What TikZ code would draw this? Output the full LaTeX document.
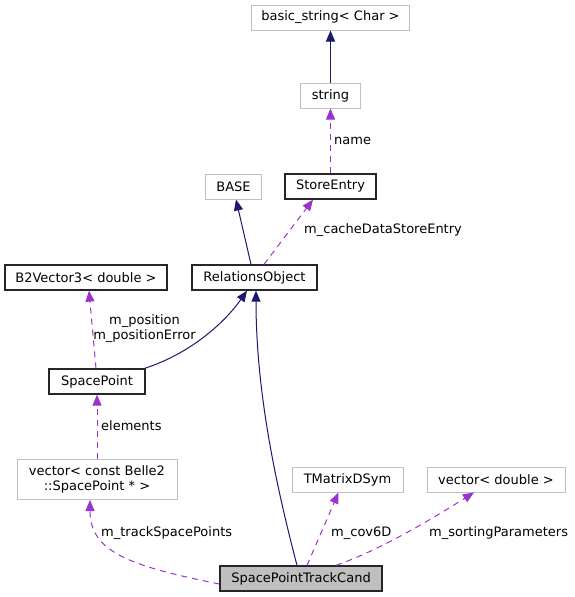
\documentclass[tikz,border=0pt]{standalone}
\usepackage{fontspec}
\setmainfont{DejaVu Sans}
\usetikzlibrary{arrows.meta}
\definecolor{navy}{HTML}{191970}
\definecolor{orchid}{HTML}{9A32CD}
\definecolor{lgray}{HTML}{BFBFBF}
\tikzset{
  lbl/.style={font=\fontsize{13}{15}\selectfont, inner sep=0pt},
  cls/.style={lbl, draw=black!85, line width=1.3pt, rectangle, minimum height=25pt, align=center},
  ext/.style={lbl, draw=lgray, line width=1pt, rectangle, minimum height=25pt, align=center},
  inh/.style={draw=navy, line width=1pt, -{Triangle[length=11pt,width=9pt]}},
  use/.style={draw=orchid, line width=1pt, dash pattern=on 6pt off 5pt, -{Triangle[length=11pt,width=9pt]}}
}
\begin{document}
\begin{tikzpicture}[x=1pt,y=-1pt]
\useasboundingbox[fill=white] (0,0) rectangle (575,597);
% nodes
\node[ext, minimum width=158pt] (bs) at (330.5,17.5) {basic\_string< Char >};
\node[ext, minimum width=60pt] (str) at (330.5,95.5) {string};
\node[ext, minimum width=56pt] (base) at (233.5,186.5) {BASE};
\node[cls, minimum width=91pt] (se) at (330.5,186.5) {StoreEntry};
\node[cls, minimum width=125pt] (ro) at (254.5,277.5) {RelationsObject};
\node[cls, minimum width=162pt] (b2) at (86,277.5) {B2Vector3< double >};
\node[cls, minimum width=96pt] (sp) at (97,381.5) {SpacePoint};
\node[ext, minimum width=160pt, minimum height=40pt] (vsp) at (97,479.5) {vector< const Belle2\\::SpacePoint * >};
\node[ext, minimum width=111pt] (tm) at (347.5,479.5) {TMatrixDSym};
\node[ext, minimum width=138pt] (vd) at (496,479.5) {vector< double >};
\node[cls, fill=lgray, minimum width=162pt] (sptc) at (301,578.5) {SpacePointTrackCand};
% coordinates on borders
\coordinate (roN1) at ([xshift=-3.5pt]ro.north);
\coordinate (roN2) at ([xshift=9.5pt]ro.north);
\coordinate (roS1) at ([xshift=-7.5pt]ro.south);
\coordinate (roS2) at ([xshift=1.5pt]ro.south);
\coordinate (baseS) at ([xshift=2.5pt]base.south);
\coordinate (seS) at ([xshift=-17.5pt]se.south);
\coordinate (spNE) at ([xshift=-1pt]sp.north east);
\coordinate (spN) at ([xshift=-1pt]sp.north);
\coordinate (b2S) at ([xshift=3pt]b2.south);
\coordinate (vspS) at ([xshift=-7pt]vsp.south);
\coordinate (sptcW) at ([yshift=-5.5pt]sptc.west);
\coordinate (sptcN1) at ([xshift=-4pt]sptc.north);
\coordinate (sptcN2) at ([xshift=6pt]sptc.north);
\coordinate (sptcN3) at ([xshift=35pt]sptc.north);
\coordinate (tmS) at ([xshift=-9pt]tm.south);
\coordinate (vdS) at ([xshift=-22pt]vd.south);
% edges
\draw[inh] (str) -- (bs);
\draw[use] (se) -- (str);
\node[lbl, anchor=west] (lname) at (334,140.5) {name};
\draw[inh] (roN1) -- (baseS);
\draw[use] (roN2) -- (seS);
\node[lbl, anchor=west] (lcache) at (304,230.5) {m\_cacheDataStoreEntry};
\draw[inh] (spNE) .. controls (195,352) and (228,318) .. (roS1);
\draw[use] (spN) -- (b2S);
\node[lbl, align=center] (lpos) at (144.5,328.5) {m\_position\\m\_positionError};
\draw[use] (vsp) -- (sp);
\node[lbl, anchor=west] (lel) at (101,425.5) {elements};
\draw[inh] (sptcN1) .. controls (280,500) and (256,400) .. (roS2);
\draw[use] (sptcW) .. controls (130,566) and (90,552) .. (vspS);
\node[lbl, anchor=west] (ltsp) at (101,533) {m\_trackSpacePoints};
\draw[use] (sptcN2) -- (tmS);
\node[lbl, anchor=west] (lcov) at (331,533) {m\_cov6D};
\draw[use] (sptcN3) .. controls (380,550) and (430,520) .. (vdS);
\node[lbl, anchor=west] (lsort) at (429,533) {m\_sortingParameters};
\end{tikzpicture}
\end{document}
